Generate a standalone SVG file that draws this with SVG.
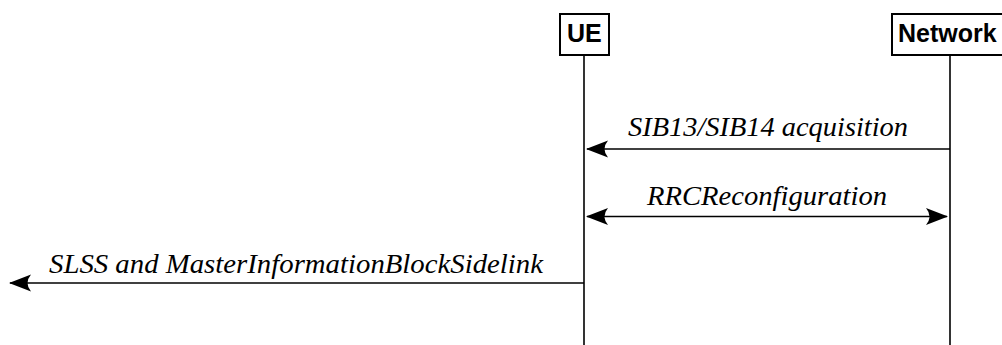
<svg xmlns="http://www.w3.org/2000/svg" width="1002" height="345" viewBox="0 0 1002 345">
<style>
.box{fill:#fff;stroke:#000;stroke-width:2}
.life{stroke:#000;stroke-width:1.6;fill:none}
.msg{stroke:#000;stroke-width:1.6;fill:none}
.lbl{font-family:"Liberation Serif",serif;font-style:italic;font-size:27px;fill:#000}
.hdr{font-family:"Liberation Sans",Arial,sans-serif;font-weight:bold;font-size:25px;fill:#000}
</style>
<defs>
<marker id="ah" markerWidth="22" markerHeight="20" viewBox="0 0 22 20" refX="21" refY="10" orient="auto-start-reverse" markerUnits="userSpaceOnUse">
<path d="M22,10 L0,1.5 Q7,10 0,18.5 Z" fill="#000"/>
</marker>
</defs>
<g id="ue">
<rect class="box" x="560" y="14" width="49" height="41"/>
<text class="hdr" x="567" y="42">UE</text>
<line class="life" x1="584" y1="55" x2="584" y2="345"/>
</g>
<g id="network">
<rect class="box" x="892" y="14" width="120" height="41"/>
<text class="hdr" x="898" y="42">Network</text>
<line class="life" x1="950" y1="55" x2="950" y2="345"/>
</g>
<g id="connectors">
<line class="msg" x1="950" y1="149" x2="587" y2="149" marker-end="url(#ah)"/>
<line class="msg" x1="587" y1="216.5" x2="947" y2="216.5" marker-start="url(#ah)" marker-end="url(#ah)"/>
<line class="msg" x1="584" y1="283" x2="10" y2="283" marker-end="url(#ah)"/>
</g>
<text class="lbl" x="628" y="136" textLength="280" lengthAdjust="spacingAndGlyphs">SIB13/SIB14 acquisition</text>
<text class="lbl" x="647" y="205" textLength="240" lengthAdjust="spacingAndGlyphs">RRCReconfiguration</text>
<text class="lbl" x="49" y="273" textLength="494" lengthAdjust="spacingAndGlyphs">SLSS and MasterInformationBlockSidelink</text>
</svg>
